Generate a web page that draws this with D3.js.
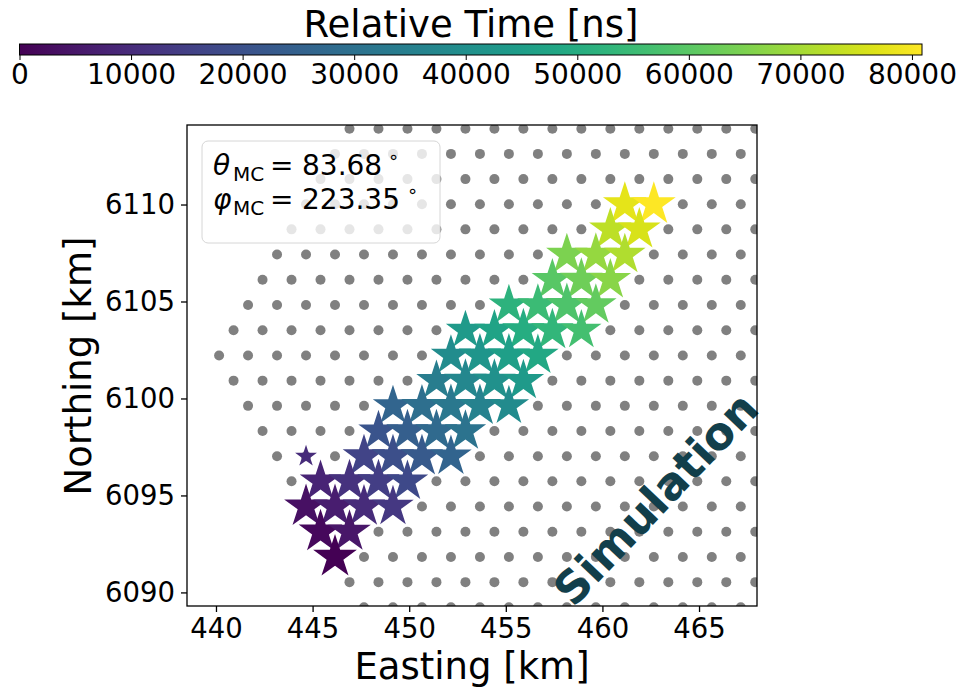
<!DOCTYPE html>
<html>
<head>
<meta charset="utf-8">
<script src="https://cdn.jsdelivr.net/npm/d3@7"></script>
<style>
  body { margin: 0; background: #fff; }
  text { font-family: "DejaVu Sans", sans-serif; fill: #000; }
</style>
</head>
<body>
<script>
// antenna grid, one entry per row: northing [km], first and last easting [km]
var gridNorthing = [6113.91, 6112.61, 6111.31, 6110.01, 6108.72, 6107.42, 6106.12, 6104.82, 6103.52, 6102.22,
                    6100.92, 6099.62, 6098.32, 6097.02, 6095.73, 6094.43, 6093.13, 6091.83, 6090.53, 6089.23];
var gridFirst = [446.91, 446.16, 445.41, 444.66, 443.91, 443.16, 442.41, 441.66, 440.91, 440.16,
                 440.91, 441.66, 442.41, 443.16, 443.91, 444.66, 445.41, 446.16, 446.91, 447.66];
var gridLast = [467.91, 467.16, 467.91, 467.16, 467.91, 467.16, 467.91, 467.16, 467.91, 467.16,
                467.91, 467.16, 467.91, 467.16, 467.91, 467.16, 467.91, 467.16, 467.91, 467.16];
var gridPitch = 1.5;

// antennas with signal
var starEasting = [461.16, 462.66,
                   460.41, 461.91,
                   458.16, 459.66, 461.16,
                   457.41, 458.91, 460.41,
                   455.16, 456.66, 458.16, 459.66,
                   452.91, 454.41, 455.91, 457.41, 458.91,
                   452.16, 453.66, 455.16, 456.66,
                   451.41, 452.91, 454.41, 455.91,
                   449.16, 450.66, 452.16, 453.66, 455.16,
                   448.41, 449.91, 451.41, 452.91,
                   444.66, 447.66, 449.16, 450.66, 452.16,
                   445.41, 446.91, 448.41, 449.91,
                   444.66, 446.16, 447.66, 449.16,
                   445.41, 446.91,
                   446.16];
var starNorthing = [6110.01, 6110.01,
                    6108.72, 6108.72,
                    6107.42, 6107.42, 6107.42,
                    6106.12, 6106.12, 6106.12,
                    6104.82, 6104.82, 6104.82, 6104.82,
                    6103.52, 6103.52, 6103.52, 6103.52, 6103.52,
                    6102.22, 6102.22, 6102.22, 6102.22,
                    6100.92, 6100.92, 6100.92, 6100.92,
                    6099.62, 6099.62, 6099.62, 6099.62, 6099.62,
                    6098.32, 6098.32, 6098.32, 6098.32,
                    6097.02, 6097.02, 6097.02, 6097.02, 6097.02,
                    6095.73, 6095.73, 6095.73, 6095.73,
                    6094.43, 6094.43, 6094.43, 6094.43,
                    6093.13, 6093.13,
                    6091.83];
var starTime = [77700, 80950,
                72900, 76100,
                64800, 68000, 71200,
                59900, 63100, 66400,
                51900, 55100, 58300, 61500,
                43800, 47000, 50200, 53400, 56600,
                38900, 42100, 45400, 48600,
                34100, 37300, 40500, 43700,
                26000, 29200, 32400, 35600, 38800,
                21100, 24300, 27500, 30700,
                9900, 16300, 19500, 22700, 25900,
                8200, 11400, 14600, 17800,
                3400, 6600, 9800, 13000,
                1700, 4900,
                0];
var starSignal = [100, 100,
                  95, 95,
                  90, 95, 90,
                  90, 95, 90,
                  85, 90, 95, 90,
                  80, 85, 95, 95, 85,
                  85, 95, 95, 90,
                  85, 95, 95, 90,
                  85, 90, 95, 95, 85,
                  85, 95, 95, 90,
                  25, 95, 95, 95, 90,
                  90, 95, 95, 90,
                  100, 100, 95, 90,
                  100, 95,
                  100];

var colorTicks = [0, 10000, 20000, 30000, 40000, 50000, 60000, 70000, 80000];
var xTicks = [440, 445, 450, 455, 460, 465];
var yTicks = [6090, 6095, 6100, 6105, 6110];
var theta = "83.68";
var phi = "223.35";

var w = 959, h = 687;
var plot = { left: 187, right: 757, top: 125, bottom: 606 };

var svg = d3.select("body").append("svg")
  .attr("width", w)
  .attr("height", h);

var xScale = d3.scaleLinear().domain([438.5, 468.0]).range([plot.left, plot.right]);
var yScale = d3.scaleLinear().domain([6089.3, 6114.1]).range([plot.bottom, plot.top]);
var tMax = 80900;
var color = d3.scaleSequential(d3.interpolateViridis).domain([0, tMax]);
var rScale = d3.scaleSqrt().domain([0, 100]).range([0, 23]);

// colorbar
var cbScale = d3.scaleLinear().domain([0, tMax]).range([19.5, 922]);
var defs = svg.append("defs");
var grad = defs.append("linearGradient").attr("id", "viridis");
d3.range(0, 1.0001, 0.05).forEach(function (f) {
  grad.append("stop").attr("offset", f).attr("stop-color", d3.interpolateViridis(f));
});
svg.append("rect")
  .attr("x", cbScale(0)).attr("y", 44)
  .attr("width", cbScale(tMax) - cbScale(0)).attr("height", 11)
  .attr("fill", "url(#viridis)")
  .attr("stroke", "#000").attr("stroke-width", 1);
var cbAxis = svg.append("g")
  .attr("transform", "translate(0,55)")
  .call(d3.axisBottom(cbScale).tickValues(colorTicks).tickSize(5).tickPadding(4).tickFormat(d3.format("d")));
cbAxis.select(".domain").remove();
cbAxis.selectAll("text").attr("font-size", 28).attr("font-family", "DejaVu Sans").attr("fill", "#000")
  .attr("dy", "0.71em");
svg.append("text")
  .attr("x", 471).attr("y", 37)
  .attr("text-anchor", "middle")
  .attr("font-size", 37)
  .text("Relative Time [ns]");

// plot area
defs.append("clipPath").attr("id", "clip")
  .append("rect")
  .attr("x", plot.left).attr("y", plot.top)
  .attr("width", plot.right - plot.left).attr("height", plot.bottom - plot.top);

var dots = [];
gridNorthing.forEach(function (n, i) {
  for (var e = gridFirst[i]; e <= gridLast[i] + 0.001; e += gridPitch) {
    dots.push({ e: e, n: n });
  }
});

var area = svg.append("g").attr("clip-path", "url(#clip)");
area.selectAll("circle.antenna")
  .data(dots)
  .enter().append("circle")
  .attr("class", "antenna")
  .attr("cx", function (d) { return xScale(d.e); })
  .attr("cy", function (d) { return yScale(d.n); })
  .attr("r", 5)
  .attr("fill", "#808080");

var stars = starEasting.map(function (e, i) {
  return { e: e, n: starNorthing[i], t: starTime[i], s: starSignal[i] };
});
area.selectAll("path.star")
  .data(stars)
  .enter().append("path")
  .attr("class", "star")
  .attr("transform", function (d) { return "translate(" + xScale(d.e) + "," + yScale(d.n) + ")"; })
  .attr("d", function (d) {
    var r = rScale(d.s);
    return d3.symbol().type(d3.symbolStar).size(r * r / 0.8908130915292852)();
  })
  .attr("fill", function (d) { return color(d.t); });

// legend box
var leg = svg.append("g");
leg.append("rect")
  .attr("x", 202).attr("y", 141)
  .attr("width", 238).attr("height", 102)
  .attr("rx", 6)
  .attr("fill", "#fff").attr("fill-opacity", 0.8)
  .attr("stroke", "#d6d6d6");
function legendLine(y, sym, val, degX) {
  var t = leg.append("text").attr("y", y).attr("font-size", 28);
  t.append("tspan").attr("x", 213).attr("font-style", "italic").text(sym);
  t.append("tspan").attr("x", 233).attr("dy", 6).attr("font-size", 20).text("MC");
  t.append("tspan").attr("x", 270).attr("dy", -6).text("=");
  t.append("tspan").attr("x", 302).text(val);
  t.append("tspan").attr("x", degX).attr("dy", -12).attr("font-size", 18).text("\u2218");
}
legendLine(175, "\u03b8", theta, 388);
legendLine(209, "\u03c6", phi, 407);

// simulation stamp
svg.append("text")
  .attr("transform", "translate(656,499) rotate(-46.5)")
  .attr("text-anchor", "middle")
  .attr("dominant-baseline", "central")
  .attr("font-family", "Open Sans")
  .attr("font-weight", 800)
  .attr("font-size", 45)
  .style("fill", "#123f4b")
  .text("Simulation");

// frame and axes
svg.append("rect")
  .attr("x", plot.left).attr("y", plot.top)
  .attr("width", plot.right - plot.left).attr("height", plot.bottom - plot.top)
  .attr("fill", "none").attr("stroke", "#000").attr("stroke-width", 1.3);

var xAxis = svg.append("g")
  .attr("transform", "translate(0," + plot.bottom + ")")
  .call(d3.axisBottom(xScale).tickValues(xTicks).tickSize(6).tickPadding(6).tickFormat(d3.format("d")));
var yAxis = svg.append("g")
  .attr("transform", "translate(" + plot.left + ",0)")
  .call(d3.axisLeft(yScale).tickValues(yTicks).tickSize(6).tickPadding(6).tickFormat(d3.format("d")));
[xAxis, yAxis].forEach(function (a) {
  a.select(".domain").remove();
  a.selectAll("line").attr("stroke-width", 1.3);
  a.selectAll("text").attr("font-size", 27.5).attr("font-family", "DejaVu Sans").attr("fill", "#000");
});

svg.append("text")
  .attr("x", 472).attr("y", 679)
  .attr("text-anchor", "middle")
  .attr("font-size", 37)
  .text("Easting [km]");
svg.append("text")
  .attr("transform", "translate(91,366) rotate(-90)")
  .attr("text-anchor", "middle")
  .attr("font-size", 37)
  .text("Northing [km]");
</script>
</body>
</html>
